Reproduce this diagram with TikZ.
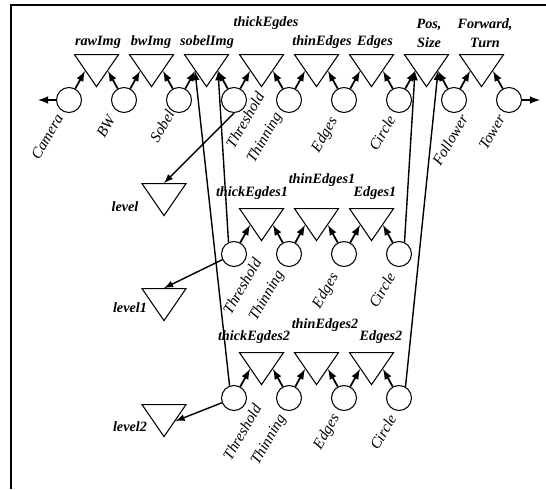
\documentclass[tikz,border=0pt]{standalone}
\usepackage{fontspec}
\setmainfont{Liberation Serif}
\usepackage{tikz}
\usetikzlibrary{arrows,calc,shapes.geometric}

\begin{document}
\begin{tikzpicture}[x=0.02cm,y=-0.02cm]
\tikzstyle{proc} = [circle, draw, line width=0.6pt, minimum size=0.5cm, inner sep=0pt]
\tikzstyle{store} = [isosceles triangle, isosceles triangle stretches, shape border rotate=270, draw, line width=0.6pt, minimum width=0.88cm, minimum height=0.64cm, inner sep=0pt, anchor=apex]
\tikzstyle{plbl} = [font=\fontsize{8.7}{10}\selectfont\itshape, rotate=60, inner sep=0pt]
\tikzstyle{slbl} = [font=\fontsize{8.1}{10.8}\selectfont\bfseries\itshape, align=center, inner sep=0pt]
\tikzstyle{flow} = [-latex, line width=1pt]
\tikzstyle{link} = [-latex, line width=0.8pt]
\useasboundingbox (0,0) rectangle (546,489);
\draw[line width=1pt] (11,489) -- (11,5) -- (546,5);

% main row
\node[proc] (camera) at (69,100) {};
\node[proc] (bw) at (124,100) {};
\node[proc] (sobel) at (179,100) {};
\node[proc] (thresh) at (234,100) {};
\node[proc] (thin) at (289,100) {};
\node[proc] (edges) at (344,100) {};
\node[proc] (circ) at (399,100) {};
\node[proc] (follow) at (454,100) {};
\node[proc] (tower) at (509,100) {};
\node[store] (raw) at (96.5,88) {};
\node[store] (bwi) at (151.5,88) {};
\node[store] (sob) at (206.5,88) {};
\node[store] (thick) at (261.5,88) {};
\node[store] (thinE) at (316.5,88) {};
\node[store] (edg) at (371.5,88) {};
\node[store] (pos) at (426.5,88) {};
\node[store] (fwd) at (481.5,88) {};
\node[plbl] (lcamera) at (47,137) {Camera};
\node[plbl] (lbw) at (106,127) {BW};
\node[plbl] (lsobel) at (162,126) {Sobel};
\node[plbl] (lthresh) at (245,120) {Threshold};
\node[plbl] (lthin) at (265,138) {Thinning};
\node[plbl] (ledges) at (325,135) {Edges};
\node[plbl] (lcirc) at (382,133) {Circle};
\node[plbl] (lfollow) at (450,140) {Follower};
\node[plbl] (ltower) at (492,132) {Tower};
\node[slbl] (lraw) at (98,42) {rawImg};
\node[slbl] (lbwi) at (151,42) {bwImg};
\node[slbl] (lsob) at (207,42) {sobelImg};
\node[slbl] (lthick) at (266,23) {thickEgdes};
\node[slbl] (lthinE) at (322,42) {thinEdges};
\node[slbl] (ledg) at (375,42) {Edges};
\node[slbl] (lpos) at (429,33) {Pos,\\Size};
\node[slbl] (lfwd) at (485,33) {Forward,\\Turn};
\coordinate (camout) at (38,100);
\coordinate (towout) at (540,100);

% level 1 row
\node[proc] (threshA) at (234,254) {};
\node[proc] (thinA) at (289,254) {};
\node[proc] (edgesA) at (344,254) {};
\node[proc] (circA) at (399,254) {};
\node[store] (thickA) at (261.5,242) {};
\node[store] (thinEA) at (316.5,242) {};
\node[store] (edgA) at (371.5,242) {};
\node[plbl] (lthreshA) at (242,286) {Threshold};
\node[plbl] (lthinA) at (267,296) {Thinning};
\node[plbl] (ledgesA) at (326,291) {Edges};
\node[plbl] (lcircA) at (382,290) {Circle};
\node[slbl] (lthickA) at (252,193) {thickEgdes1};
\node[slbl] (lthinEA) at (322,180) {thinEdges1};
\node[slbl] (ledgA) at (375,193) {Edges1};

% level 2 row
\node[proc] (threshB) at (234,398) {};
\node[proc] (thinB) at (289,398) {};
\node[proc] (edgesB) at (344,398) {};
\node[proc] (circB) at (399,398) {};
\node[store] (thickB) at (261.5,386) {};
\node[store] (thinEB) at (316.5,386) {};
\node[store] (edgB) at (371.5,386) {};
\node[plbl] (lthreshB) at (242,432) {Threshold};
\node[plbl] (lthinB) at (269,440) {Thinning};
\node[plbl] (ledgesB) at (327,432) {Edges};
\node[plbl] (lcircB) at (383,432) {Circle};
\node[slbl] (lthickB) at (254,337) {thickEgdes2};
\node[slbl] (lthinEB) at (325,325) {thinEdges2};
\node[slbl] (ledgB) at (381,337) {Edges2};

% level stores
\node[store] (lvl) at (164,217) {};
\node[store] (lvlA) at (164,322) {};
\node[store] (lvlB) at (164,438) {};
\node[slbl] (llvl) at (125,207) {level};
\node[slbl] (llvlA) at (130,308) {level1};
\node[slbl] (llvlB) at (130,427) {level2};

% write / read arrows
\foreach \a/\t/\b in {camera/raw/bw, bw/bwi/sobel, sobel/sob/thresh, thresh/thick/thin,
  thin/thinE/edges, edges/edg/circ, circ/pos/follow, follow/fwd/tower,
  threshA/thickA/thinA, thinA/thinEA/edgesA, edgesA/edgA/circA,
  threshB/thickB/thinB, thinB/thinEB/edgesB, edgesB/edgB/circB}
{
  \draw[flow] (\a) -- (\t.right side);
  \draw[flow] (\b) -- (\t.left side);
}
\draw[flow] (camera) -- (camout);
\draw[flow] (tower) -- (towout);

\draw[link] (thresh.south) -- (lvl.lower side);
\draw[link] (threshA) -- (lvlA.lower side);
\draw[link] (threshB) -- (lvlB.left side);
\draw[link] (threshA.115) -- (sob.left side);
\draw[link] (threshB.110) -- (sob.right side);
\draw[link] (circA.65) -- (pos.right side);
\draw[link] (circB.60) -- (pos.left side);
\end{tikzpicture}
\end{document}
